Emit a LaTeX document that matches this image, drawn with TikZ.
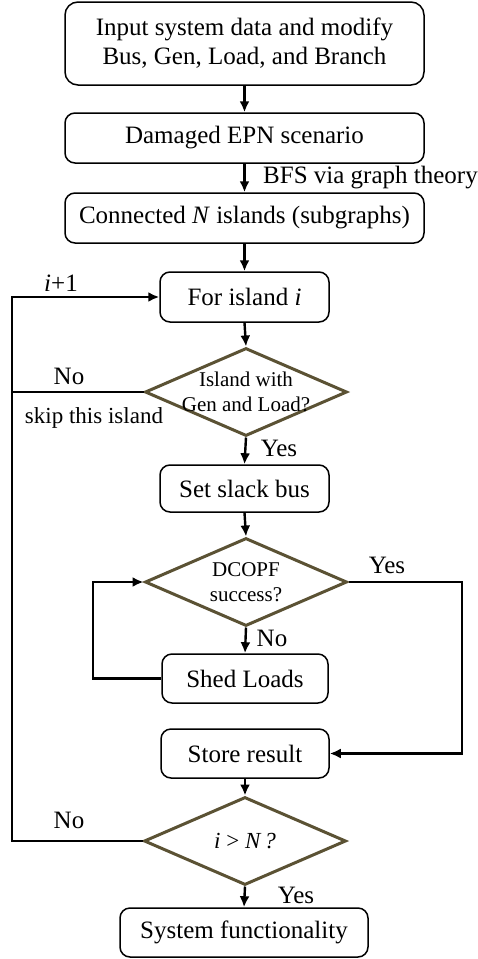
\documentclass[tikz,border=0pt]{standalone}
\usepackage{fontspec}
\setmainfont{Liberation Serif}
\usepackage{xcolor}
\usetikzlibrary{arrows.meta,shapes.geometric}
\definecolor{olive}{HTML}{5B5234}
\tikzset{
  box/.style={draw=black, line width=1.5pt, rounded corners=10pt, inner sep=0pt,
    align=center, font=\fontsize{25}{29}\selectfont},
  dia/.style={draw=olive, line width=3pt, diamond, inner sep=0pt,
    minimum width=202pt, minimum height=88pt},
  diatxt/.style={align=center, font=\fontsize{21}{25}\selectfont},
  arr/.style={draw=black, line width=2.4pt, -{Latex[length=11pt,width=10pt]}},
  line/.style={draw=black, line width=2.4pt},
  lab/.style={font=\fontsize{25}{29}\selectfont, inner sep=0pt},
}
\begin{document}
\begin{tikzpicture}[x=1pt,y=-1pt]
  \useasboundingbox (0,0) rectangle (478,959);
  % main column
  \node[box, rounded corners=13pt, minimum width=359pt, minimum height=83pt] (input) at (244.5,43.5)
    {Input system data and modify\\Bus, Gen, Load, and Branch};
  \node[box, minimum width=359pt, minimum height=50pt] (damage) at (244.5,138) {Damaged EPN scenario};
  \node[box, minimum width=359pt, minimum height=50pt] (islands) at (244.5,218)
    {Connected \textit{N} islands (subgraphs)};
  \node[box, minimum width=169pt, minimum height=50pt] (island) at (244.5,297) {For island \textit{i}};
  \node[dia, label={[diatxt]center:{Island with\\Gen and Load?}}] (check) at (246,392) {};
  \node[box, minimum width=169pt, minimum height=47pt] (slack) at (244.5,488.5) {Set slack bus};
  \node[dia, label={[diatxt]center:{DCOPF\\success?}}] (opf) at (246,582) {};
  \node[box, minimum width=166pt, minimum height=49pt] (shed) at (245,678.5) {Shed Loads};
  \node[box, minimum width=168pt, minimum height=49pt] (store) at (245,753.5) {Store result};
  \node[dia, label={[diatxt, font=\fontsize{23}{27}\selectfont\itshape]center:{i \upshape>\itshape{} N\,?}}] (last) at (245,841) {};
  \node[box, minimum width=248pt, minimum height=49pt] (func) at (244,932.5) {System functionality};
  % loop corners
  \coordinate (L) at (12,841);
  \coordinate (R) at (462,582);
  \coordinate (S) at (93,678.5);
  % connectors
  \draw[arr] (input.south) -- (damage.north);
  \draw[arr] (damage.south) -- (islands.north);
  \draw[arr] (islands.south) -- (island.north);
  \draw[arr] (island.south) -- (check.north);
  \draw[arr] (check.south) -- (slack.north);
  \draw[arr] (slack.south) -- (opf.north);
  \draw[arr] (opf.south) -- (shed.north);
  \draw[arr] (store.south) -- (last.north);
  \draw[arr] (last.south) -- (func.north);
  \draw[arr] (last.west) -- (L) |- (island.west);
  \draw[line] (check.west) -- (check.west -| L);
  \draw[arr] (opf.east) -- (R) |- (store.east);
  \draw[arr] (shed.west) -- (S) |- (opf.west);
  % labels
  \node[lab, anchor=west] (bfs) at (263,178) {BFS via graph theory};
  \node[lab] (inc) at (61,283) {\textit{i}+1};
  \node[lab] (no1) at (69,376) {No};
  \node[lab, font=\fontsize{23}{28}\selectfont] (skip) at (94,418) {skip this island};
  \node[lab] (yes1) at (279,448) {Yes};
  \node[lab] (yes2) at (387,565) {Yes};
  \node[lab] (no2) at (272,638) {No};
  \node[lab] (no3) at (69,820) {No};
  \node[lab] (yes3) at (296,895) {Yes};
\end{tikzpicture}
\end{document}
